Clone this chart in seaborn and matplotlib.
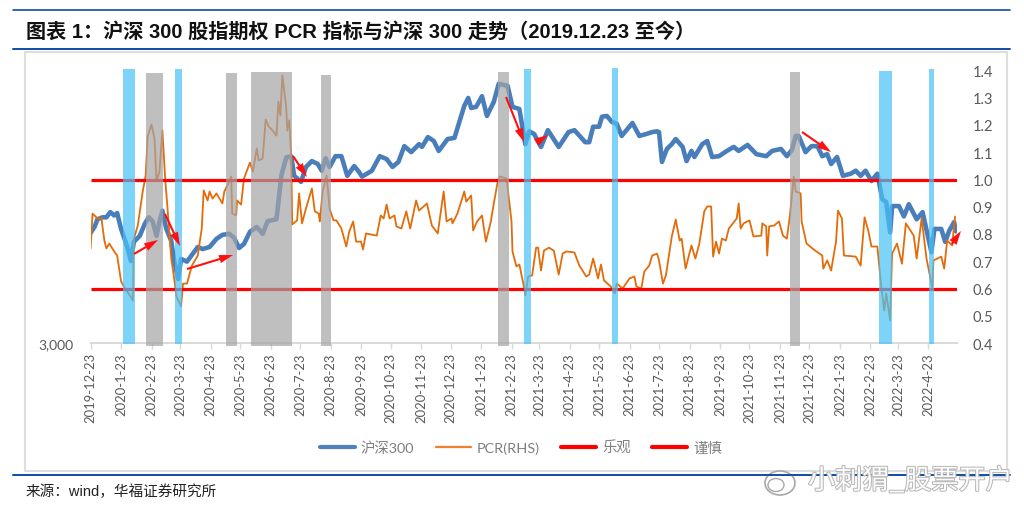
import pandas as pd
import numpy as np
import matplotlib
matplotlib.use('Agg')
import matplotlib.pyplot as plt
import matplotlib.patheffects as pe
from matplotlib.lines import Line2D
from matplotlib.patches import Rectangle, Ellipse
import seaborn as sns

# days since 2019-12-23 and close of the index (left, log axis)
hs_days = [0, 4, 7, 12, 16, 20, 24, 27, 31, 37, 41, 44, 50, 55, 59, 63, 67, 70, 73, 77, 82, 85, 89, 92, 98, 104, 109,
           114, 121, 128, 134, 141, 146, 151, 156, 162, 169, 175, 180, 189, 194, 199, 204, 207, 214, 219, 225, 231,
           235, 239, 243, 249, 255, 261, 268, 273, 276, 286, 294, 301, 307, 313, 319, 326, 334, 337, 343, 349, 354,
           363, 370, 375, 380, 384, 387, 392, 398, 403, 410, 415, 424, 429, 436, 442, 446, 451, 458, 465, 476, 486,
           492, 503, 507, 511, 517, 520, 525, 530, 535, 540, 551, 558, 565, 571, 576, 578, 581, 586, 591, 595, 602,
           606, 611, 614, 622, 627, 632, 639, 647, 654, 659, 668, 677, 687, 693, 702, 708, 713, 717, 720, 727, 733,
           739, 744, 749, 753, 759, 765, 773, 778, 783, 788, 794, 800, 805, 809, 813, 815, 822, 827, 832, 840, 846,
           855, 858, 865, 869, 873, 878, 880]
hs_close = [3971, 4030, 4110, 4130, 4130, 4185, 4150, 4175, 4010, 3840, 3695, 3880, 3940, 4060, 4130, 4090, 3940,
            4080, 4200, 4010, 3890, 3695, 3530, 3715, 3690, 3765, 3830, 3810, 3830, 3910, 3950, 3960, 3920, 3820,
            3860, 3980, 4030, 3960, 4090, 4110, 4595, 4810, 4825, 4590, 4520, 4695, 4765, 4730, 4650, 4800, 4695,
            4825, 4825, 4590, 4705, 4635, 4580, 4650, 4825, 4790, 4695, 4755, 4950, 4875, 4975, 4940, 5065, 5015,
            4890, 5040, 5055, 5265, 5485, 5595, 5455, 5470, 5620, 5345, 5540, 5800, 5770, 5470, 5440, 4975, 5140,
            5105, 4940, 5155, 4940, 5130, 5155, 5000, 5000, 5200, 5200, 5335, 5345, 5265, 5240, 5080, 5250, 5080,
            5105, 5130, 5140, 5130, 4755, 4915, 4975, 5040, 4940, 4765, 4890, 4815, 4975, 5015, 4815, 4825, 4890,
            4940, 4890, 4965, 4850, 4825, 4890, 4915, 4825, 4900, 5080, 5080, 4875, 4950, 4950, 4825, 4850, 4730,
            4815, 4590, 4615, 4650, 4590, 4650, 4530, 4615, 4325, 4295, 3975, 4250, 4250, 4140, 4270, 4110, 4185,
            3780, 4010, 4010, 3880, 3990, 4080, 3985]

# days since 2019-12-23 and PCR (right axis)
pcr_days = [0, 2, 7, 11, 14, 16, 19, 24, 27, 31, 35, 40, 43, 44, 48, 53, 56, 58, 62, 65, 67, 70, 73, 76, 78, 82, 85,
            87, 92, 94, 98, 103, 109, 113, 115, 119, 121, 124, 128, 134, 136, 141, 143, 144, 148, 149, 153, 156, 162,
            165, 169, 171, 175, 178, 181, 185, 189, 191, 193, 195, 199, 200, 202, 204, 205, 210, 212, 215, 219, 225,
            228, 232, 233, 236, 240, 243, 247, 250, 255, 260, 263, 267, 270, 275, 277, 280, 291, 295, 298, 301, 304,
            309, 311, 316, 321, 325, 331, 334, 342, 347, 353, 359, 362, 367, 368, 373, 380, 382, 387, 389, 393, 398,
            402, 407, 410, 414, 416, 423, 428, 429, 433, 436, 441, 442, 445, 449, 453, 455, 458, 461, 466, 471, 476,
            480, 484, 492, 497, 504, 507, 511, 516, 519, 522, 529, 533, 535, 541, 548, 553, 555, 560, 563, 568, 571,
            576, 578, 582, 585, 591, 595, 599, 601, 605, 611, 615, 619, 624, 627, 631, 633, 636, 639, 642, 646, 649,
            657, 659, 661, 664, 670, 674, 682, 683, 687, 688, 690, 695, 700, 704, 708, 711, 715, 717, 722, 723, 728,
            734, 738, 744, 745, 749, 753, 758, 760, 764, 766, 778, 783, 787, 791, 794, 800, 804, 807, 809, 813, 815,
            820, 825, 829, 837, 840, 845, 850, 856, 857, 865, 868, 871, 876, 879]
pcr_value = [.747, .875, .857, .857, .776, .747, .765, .736, .721, .626, .600, .574, .556, .783, .831, .956, 1.015,
             1.158, 1.202, 1.150, .993, 1.029, 1.180, .993, .905, .710, .637, .574, .534, .618, .618, .684, .721,
             .820, .960, .923, .956, .930, .949, .912, .956, .993, 1.011, .875, .868, .923, .908, 1.004, 1.062,
             1.029, 1.114, 1.070, 1.077, 1.220, 1.195, 1.180, 1.161, 1.286, 1.235, 1.382, 1.261, 1.180, 1.217, 1.088,
             .835, .850, .949, .839, .894, .967, .883, .875, .846, .956, 1.015, .894, .850, .850, .820, .754, .809,
             .846, .772, .772, .743, .802, .794, .868, .857, .908, .857, .868, .828, .820, .883, .820, .923, .886,
             .912, .831, .802, .956, .846, .857, .839, .875, .956, .919, .941, .813, .846, .868, .772, .846, .912,
             .993, 1.011, 1.004, .846, .736, .681, .688, .600, .574, .644, .648, .750, .750, .666, .739, .750, .739,
             .651, .728, .736, .732, .684, .644, .651, .710, .637, .688, .630, .607, .582, .618, .600, .637, .644,
             .607, .600, .662, .684, .721, .728, .703, .618, .648, .791, .853, .776, .783, .673, .758, .710, .765,
             .883, .901, .901, .717, .772, .728, .783, .776, .820, .857, .912, .820, .839, .850, .791, .794, .839,
             .828, .721, .828, .831, .846, .794, .783, .864, 1.011, .956, .949, .846, .765, .747, .736, .721, .673,
             .703, .666, .772, .886, .857, .721, .717, .684, .861, .809, .754, .754, .607, .519, .582, .483, .728,
             .765, .691, .839, .794, .710, .857, .710, .600, .703, .717, .673, .776, .758, .864]

# shaded periods, days since 2019-12-23
gray_start = [56, 138, 163, 234, 414, 711]
gray_end = [74, 149, 205, 244, 425, 721]
gray_top = [1.39, 1.39, 1.395, 1.385, 1.395, 1.395]
blue_start = [33, 86, 441, 530, 802, 853]
blue_end = [45, 93, 448, 536, 815, 858]
blue_top = [1.405, 1.405, 1.405, 1.41, 1.40, 1.405]

optimistic = 0.6
cautious = 1.0
right_ticks = [0.4, 0.5, 0.6, 0.7, 0.8, 0.9, 1.0, 1.1, 1.2, 1.3, 1.4]

start = pd.Timestamp('2019-12-23')
tick_dates = [start + pd.DateOffset(months=i) for i in range(29)]
tick_labels = [f'{d.year}-{d.month}-{d.day}' for d in tick_dates]


def to_date(days):
    return start + pd.to_timedelta(days, unit='D')


def px(x, y):
    # reference pixels (origin top left) to figure pixels
    return (x, 506 - y)


sns.set_theme(style='white')
cjk = ['Lato', 'Noto Sans CJK SC', 'DejaVu Sans']
plt.rcParams['font.family'] = cjk
grey = '#595959'

hs_df = pd.DataFrame({'date': to_date(hs_days), 'close': hs_close})
pcr_df = pd.DataFrame({'date': to_date(pcr_days), 'pcr': pcr_value})

fig = plt.figure(figsize=(10.24, 5.06), dpi=100)
ax = fig.add_axes([90.6 / 1024, (506 - 344) / 506, (957 - 90.6) / 1024, 272.5 / 506])
ax2 = ax.twinx()

sns.lineplot(data=hs_df, x='date', y='close', ax=ax, color='#4a7ebb', lw=3.3, estimator=None, legend=False)
sns.lineplot(data=pcr_df, x='date', y='pcr', ax=ax2, color='#e36c09', lw=1.3, estimator=None, legend=False)

ax.set_yscale('log')
ax.set_ylim(3000, 6000)
ax.set_yticks([3000])
ax.set_yticklabels(['3,000'], color=grey, fontsize=10)
ax.minorticks_off()
ax.yaxis.set_minor_locator(matplotlib.ticker.NullLocator())
ax.tick_params(axis='y', length=0, pad=12)
ax.set_xlim(start, start + pd.Timedelta(days=881))
ax.set_xticks(tick_dates)
ax.set_xticklabels(tick_labels, rotation=90, color=grey, fontsize=9.4)
ax.tick_params(axis='x', length=4, width=1, color='#d9d9d9', pad=2.5, bottom=True)
ax.set_xlabel('')
ax.set_ylabel('')

ax2.set_ylim(0.4, 1.4)
ax2.set_yticks(right_ticks)
ax2.set_yticklabels([f'{t:.1f}' for t in right_ticks], color=grey, fontsize=10.5)
ax2.tick_params(axis='y', length=0, pad=11)
ax2.set_ylabel('')
ax2.set_xlabel('')
ax2.hlines([optimistic, cautious], start, start + pd.Timedelta(days=881), color='#ff0000', lw=2.3, zorder=3)

for a in (ax, ax2):
    for side in ('top', 'left', 'right'):
        a.spines[side].set_visible(False)
    a.spines['bottom'].set_color('#d9d9d9')
    a.spines['bottom'].set_linewidth(1.2)
    a.patch.set_alpha(0)

# shaded periods sit over the lines, see through
for x0, x1, top in zip(gray_start, gray_end, gray_top):
    ax2.axvspan(to_date(x0), to_date(x1), ymin=-0.01, ymax=top - 0.4, color='#a4a4a4', alpha=0.7, lw=0,
                zorder=5, clip_on=False)
for x0, x1, top in zip(blue_start, blue_end, blue_top):
    ax2.axvspan(to_date(x0), to_date(x1), ymin=-0.005, ymax=top - 0.4, color='#48c2f6', alpha=0.7, lw=0,
                zorder=5, clip_on=False)

# red hand drawn arrows
arrows = [((134, 255), (158, 241)), ((165, 215), (180, 247)), ((187, 270), (233, 256)), ((293, 157), (307, 178)),
          ((506, 98), (524, 143)), ((537, 143), (548, 136)), ((802, 133), (831, 153)), ((952, 245), (961, 232))]
for tail, head in arrows:
    ax2.annotate('', xy=px(*head), xytext=px(*tail), xycoords='figure pixels', textcoords='figure pixels',
                 annotation_clip=False, zorder=6,
                 arrowprops=dict(arrowstyle='simple,head_length=1.0,head_width=0.6,tail_width=0.15',
                                 mutation_scale=10, color='#ff1010', lw=0, shrinkA=0, shrinkB=0))

handles = [Line2D([], [], color='#4f81bd', lw=3.0), Line2D([], [], color='#f07f2e', lw=1.6),
           Line2D([], [], color='#ff0000', lw=3.0), Line2D([], [], color='#ff0000', lw=3.0)]
fig.legend(handles, ['沪深300', 'PCR(RHS)', '乐观', '谨慎'], ncol=4, frameon=False, fontsize=10.4, labelcolor='#7f7f7f',
           loc='center left', bbox_to_anchor=(320 / 1024, (506 - 448) / 506), handlelength=2.4, handletextpad=0.42,
           columnspacing=1.5, borderaxespad=0, borderpad=0)

# report page furniture
fig.add_artist(Rectangle((25 / 1024, (506 - 472) / 506), 982 / 1024, 419 / 506, transform=fig.transFigure, fill=False,
                         edgecolor='#dedede', lw=1.5, zorder=0))
for y, lw in [(10.5, 1.2), (50, 1.4), (476, 1.4)]:
    fig.add_artist(Line2D([13 / 1024, 1010 / 1024], [(506 - y) / 506] * 2, color='#0f4da8', lw=lw))

fig.text(26 / 1024, (506 - 32) / 506, '图表 1：沪深 300 股指期权 PCR 指标与沪深 300 走势（2019.12.23 至今）',
         family=['Liberation Sans', 'Noto Sans CJK SC'], fontweight='bold', fontsize=14.5, color='#111111',
         va='center', ha='left')
fig.text(26 / 1024, (506 - 492) / 506, '来源：wind，华福证券研究所', family=['Liberation Sans', 'Noto Sans CJK SC'],
         fontsize=10.5, color='#222222', va='center', ha='left')

# weibo watermark
halo = [pe.withStroke(linewidth=1.5, foreground='#b5b5b5')]
wm = fig.text(808 / 1024, (506 - 482) / 506, '小刺猬_股票开户', family=['Noto Sans CJK SC'], fontsize=19.5,
              color='white', va='center', ha='left', alpha=0.95, path_effects=halo)
fig.add_artist(Ellipse((780 / 1024, (506 - 484) / 506), 30 / 1024, 24 / 506, transform=fig.transFigure,
                       facecolor='white', edgecolor='#a8a8a8', lw=1.2))
fig.add_artist(Ellipse((776 / 1024, (506 - 486) / 506), 16 / 1024, 13 / 506, transform=fig.transFigure,
                       facecolor='white', edgecolor='#a8a8a8', lw=1.0))

fig.savefig('out.png', dpi=100)
